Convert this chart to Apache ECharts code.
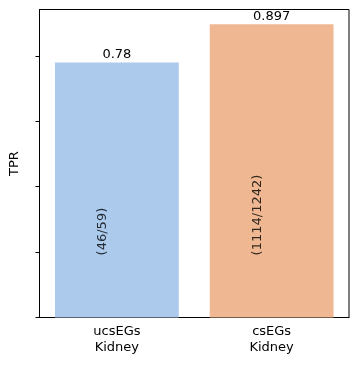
<!DOCTYPE html>
<html>
<head>
<meta charset="utf-8">
<script src="https://cdn.jsdelivr.net/npm/echarts@6/dist/echarts.min.js"></script>
<style>
  html, body { margin: 0; padding: 0; background: #fff; }
  #chart { width: 359px; height: 367px; }
</style>
</head>
<body>
<div id="chart"></div>
<script>
// data
var categories = ['ucsEGs\nKidney', 'csEGs\nKidney'];
var tprValues = [0.78, 0.897];
var countLabels = ['(46/59)', '(1114/1242)'];
var yTicks = [0, 0.2, 0.4, 0.6, 0.8];
var barColors = ['#abcaec', '#f0b892'];

var font = 'DejaVu Sans';
var chart = echarts.init(document.getElementById('chart'));

// rotated count labels sit a bit left of each bar centre, low in the bar
var countData = countLabels.map(function (t, i) {
    return { value: [i - 0.09, 0.19], label: { formatter: t } };
});

var option = {
    animation: false,
    grid: {
        left: 39.5, top: 9.5, right: 10, bottom: 49.5,
        show: true, borderColor: '#000', borderWidth: 1, backgroundColor: 'transparent'
    },
    xAxis: [
        {
            type: 'category',
            data: categories,
            axisLine: { onZero: false, lineStyle: { color: '#000' } },
            axisTick: { alignWithLabel: true, length: 4, lineStyle: { color: '#000' } },
            axisLabel: { color: '#000', fontFamily: font, fontSize: 13, lineHeight: 16, margin: 6 }
        },
        {
            type: 'value', min: -0.5, max: 1.5, show: false
        }
    ],
    yAxis: {
        type: 'value',
        min: 0,
        max: 0.942,
        interval: 0.2,
        name: 'TPR',
        nameLocation: 'middle',
        nameRotate: 90,
        nameGap: 18,
        nameTextStyle: { color: '#000', fontFamily: font, fontSize: 13 },
        axisLine: { show: true, onZero: false, lineStyle: { color: '#000' } },
        axisTick: { show: true, length: 4, customValues: yTicks, lineStyle: { color: '#000' } },
        axisLabel: { show: false },
        splitLine: { show: false }
    },
    series: [
        {
            type: 'bar',
            barWidth: '80%',
            data: tprValues.map(function (v, i) {
                return { value: v, itemStyle: { color: barColors[i] } };
            }),
            label: {
                show: true,
                position: 'top',
                distance: 1,
                color: '#000',
                fontFamily: font,
                fontSize: 13
            }
        },
        {
            type: 'scatter',
            xAxisIndex: 1,
            symbolSize: 0,
            data: countData,
            label: {
                show: true,
                position: 'inside',
                rotate: 90,
                align: 'left',
                verticalAlign: 'middle',
                color: '#000',
                fontFamily: font,
                fontSize: 13
            }
        }
    ]
};
chart.setOption(option);
</script>
</body>
</html>
